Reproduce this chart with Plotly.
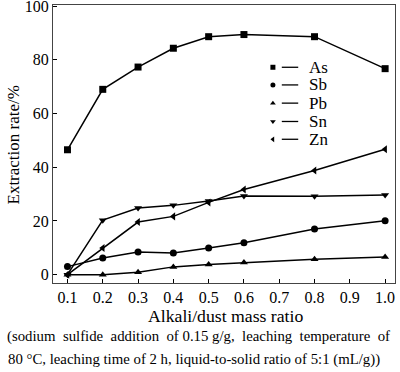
import plotly.graph_objects as go

ratio = [0.1, 0.2, 0.3, 0.4, 0.5, 0.6, 0.8, 1.0]
As = [46.5, 69.0, 77.3, 84.3, 88.6, 89.4, 88.6, 76.7]
Sb = [3.0, 6.2, 8.4, 8.1, 9.9, 11.9, 17.0, 20.1]
Pb = [0.0, 0.0, 0.9, 2.9, 3.8, 4.5, 5.7, 6.6]
Sn = [0.0, 20.3, 24.8, 25.8, 27.4, 29.3, 29.2, 29.7]
Zn = [0.0, 9.9, 19.6, 21.7, 26.9, 31.7, 38.8, 46.7]

series_names = ["As", "Sb", "Pb", "Sn", "Zn"]
series_vals = [As, Sb, Pb, Sn, Zn]
symbols = ["square", "circle", "triangle-up", "triangle-down", "triangle-left"]
x_ticks = [0.1, 0.2, 0.3, 0.4, 0.5, 0.6, 0.7, 0.8, 0.9, 1.0]
y_ticks = [0, 20, 40, 60, 80, 100]

FONT = "Liberation Serif"

fig = go.Figure()
for name, vals, sym in zip(series_names, series_vals, symbols):
    fig.add_trace(go.Scatter(
        x=ratio, y=vals, mode="lines+markers", name=name,
        line=dict(color="black", width=1.5),
        marker=dict(symbol=sym, size=7, color="black"),
        showlegend=False,
    ))

# manual legend: marker, short line, label
leg_y = [0.776, 0.7125, 0.647, 0.581, 0.517]
for name, sym, yy in zip(series_names, symbols, leg_y):
    fig.add_trace(go.Scatter(
        x=[0.643], y=[yy], xaxis="x2", yaxis="y2", mode="markers",
        marker=dict(symbol=sym, size=5, color="black"), showlegend=False,
        hoverinfo="skip"))
    fig.add_shape(type="line", xref="paper", yref="paper",
                  x0=0.669, x1=0.717, y0=yy, y1=yy,
                  line=dict(color="black", width=1.3))
    fig.add_annotation(text=name, xref="paper", yref="paper", x=0.743, y=yy,
                       xanchor="left", yanchor="middle", showarrow=False,
                       font=dict(family=FONT, size=17, color="black"))

fig.update_layout(
    width=400, height=372,
    margin=dict(l=53, r=5, t=5, b=89),
    paper_bgcolor="white", plot_bgcolor="white",
    font=dict(family=FONT, size=16, color="black"),
    xaxis=dict(range=[0.059, 1.028], tickvals=x_ticks,
               ticktext=[f"{v:.1f}" for v in x_ticks],
               ticks="inside", ticklen=4, tickcolor="black",
               showline=True, linecolor="#444", linewidth=1.2, mirror=True,
               showgrid=False, zeroline=False, ticklabeloverflow="allow",
               tickfont=dict(family=FONT, size=16)),
    yaxis=dict(range=[-3.1, 100.4], tickvals=y_ticks,
               ticks="inside", ticklen=4, tickcolor="black",
               showline=True, linecolor="#444", linewidth=1.2, mirror=True,
               showgrid=False, zeroline=False, ticklabeloverflow="allow",
               automargin=False,
               tickfont=dict(family=FONT, size=16)),
    xaxis2=dict(range=[0, 1], overlaying="x", visible=False),
    yaxis2=dict(range=[0, 1], overlaying="y", visible=False),
)

fig.add_annotation(text="Alkali/dust mass ratio", xref="paper", yref="paper",
                   x=0.505, y=-0.1175, xanchor="center", yanchor="middle",
                   showarrow=False, font=dict(family=FONT, size=17.7))
fig.add_annotation(text="Extraction rate/%", xref="paper", yref="paper",
                   x=-0.115, y=0.497, xanchor="center", yanchor="middle",
                   textangle=-90, showarrow=False, font=dict(family=FONT, size=17))
fig.add_annotation(text="(sodium  sulfide  addition  of 0.15 g/g,  leaching  temperature  of",
                   xref="paper", yref="paper", x=-0.139, y=-0.193,
                   xanchor="left", yanchor="middle", showarrow=False,
                   font=dict(family=FONT, size=14.8))
fig.add_annotation(text="80 °C, leaching time of 2 h, liquid-to-solid ratio of 5:1 (mL/g))",
                   xref="paper", yref="paper", x=-0.136, y=-0.274,
                   xanchor="left", yanchor="middle", showarrow=False,
                   font=dict(family=FONT, size=14.8))

fig.write_html("out.html", post_script="document.body.style.margin='0';",
               config={"displayModeBar": False})
